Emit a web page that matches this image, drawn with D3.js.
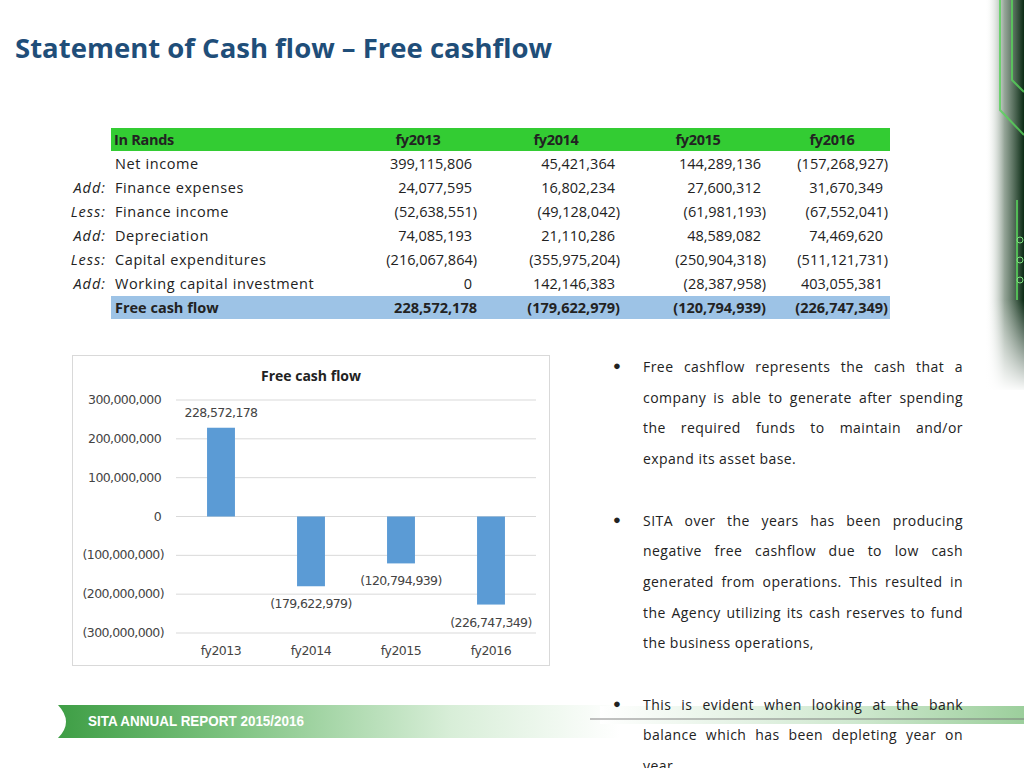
<!DOCTYPE html>
<html><head><meta charset="utf-8">
<script src="https://cdn.jsdelivr.net/npm/d3@7"></script>
<style>
body{margin:0;width:1024px;height:768px;overflow:hidden;background:#fff;font-family:"Open Sans",sans-serif;position:relative}
#txt{position:absolute;left:643px;top:352px;width:320px;font-family:"Open Sans";font-size:14px;letter-spacing:0.45px;line-height:30.7px;color:#222;text-align:justify}
#txt p{margin:0 0 30.7px 0;position:relative}
#txt p:before{content:"\25CF";position:absolute;left:-30px;top:-2px;font-size:13px}
</style></head><body>
<svg id="s" width="1024" height="768" style="position:absolute;left:0;top:0"></svg>
<div id="txt"></div>
<script>
const years=["fy2013","fy2014","fy2015","fy2016"];
const rowPrefix=["","Add:","Less:","Add:","Less:","Add:"];
const rowLabels=["Net income","Finance expenses","Finance income","Depreciation","Capital expenditures","Working capital investment"];
const rowValues=[
 ["399,115,806","45,421,364","144,289,136","(157,268,927)"],
 ["24,077,595","16,802,234","27,600,312","31,670,349"],
 ["(52,638,551)","(49,128,042)","(61,981,193)","(67,552,041)"],
 ["74,085,193","21,110,286","48,589,082","74,469,620"],
 ["(216,067,864)","(355,975,204)","(250,904,318)","(511,121,731)"],
 ["0","142,146,383","(28,387,958)","403,055,381"]];
const fcfLabels=["228,572,178","(179,622,979)","(120,794,939)","(226,747,349)"];
const fcf=[228572178,-179622979,-120794939,-226747349];
const yTicks=[300e6,200e6,100e6,0,-100e6,-200e6,-300e6];
const bullets=["Free cashflow represents the cash that a company is able to generate after spending the required funds to maintain and/or expand its asset base.",
"SITA over the years has been producing negative free cashflow due to low cash generated from operations. This resulted in the Agency utilizing its cash reserves to fund the business operations,",
"This is evident when looking at the bank balance which has been depleting year on year"];

const svg=d3.select("#s");
const defs=svg.append("defs");
const g1=defs.append("linearGradient").attr("id","band");
g1.append("stop").attr("offset","0").attr("stop-color","#3e9e45");
g1.append("stop").attr("offset","0.3").attr("stop-color","#7cc27f");
g1.append("stop").attr("offset","0.7").attr("stop-color","#d8eed8");
g1.append("stop").attr("offset","1").attr("stop-color","#ffffff");
const g2=defs.append("linearGradient").attr("id","rband");
g2.append("stop").attr("offset","0").attr("stop-color","#fff");
g2.append("stop").attr("offset","0.6").attr("stop-color","#cfe8cf");
g2.append("stop").attr("offset","1").attr("stop-color","#9ccf9c");
const g3=defs.append("linearGradient").attr("id","dk").attr("x1",0).attr("x2",1);
g3.append("stop").attr("offset","0").attr("stop-color","#fff").attr("stop-opacity",0);
g3.append("stop").attr("offset","0.5").attr("stop-color","#2a4a30").attr("stop-opacity",0.5);
g3.append("stop").attr("offset","1").attr("stop-color","#0a2a14");
const g4=defs.append("linearGradient").attr("id","fade").attr("x1",0).attr("x2",0).attr("y1",0).attr("y2",1);
g4.append("stop").attr("offset","0").attr("stop-color","#fff").attr("stop-opacity",0);
g4.append("stop").attr("offset","1").attr("stop-color","#fff").attr("stop-opacity",1);

svg.append("rect").attr("x",985).attr("y",0).attr("width",39).attr("height",390).attr("fill","url(#dk)");
svg.append("rect").attr("x",980).attr("y",300).attr("width",44).attr("height",92).attr("fill","url(#fade)");
[[1000,0,1000,110,1024,135],[1012,0,1012,80,1024,92],[1017,200,1017,300]].forEach(p=>{
 let d="M"+p[0]+","+p[1];for(let i=2;i<p.length;i+=2)d+="L"+p[i]+","+p[i+1];
 svg.append("path").attr("d",d).attr("stroke","#58d35a").attr("stroke-width",2).attr("fill","none").attr("opacity",0.8);});
[[1020,240],[1020,260],[1020,280]].forEach(c=>svg.append("circle").attr("cx",c[0]).attr("cy",c[1]).attr("r",3).attr("fill","none").attr("stroke","#7fe07f"));

svg.append("path").attr("d","M58,705 L620,705 L620,738 L58,738 Q74,722 58,705Z").attr("fill","url(#band)");
svg.append("text").attr("x",88).attr("y",726).attr("fill","#fff").attr("font-family","Liberation Sans Narrow, Liberation Sans").attr("font-weight","bold").attr("font-size",15).attr("textLength",216).attr("lengthAdjust","spacingAndGlyphs").text("SITA ANNUAL REPORT 2015/2016");
svg.append("rect").attr("x",600).attr("y",706).attr("width",424).attr("height",18).attr("fill","url(#rband)");
svg.append("line").attr("x1",590).attr("x2",1024).attr("y1",719).attr("y2",719).attr("stroke","#777").attr("stroke-width",1.5).attr("opacity",0.6);

svg.append("text").attr("x",15).attr("y",58).attr("font-family","Open Sans").attr("font-weight","bold").attr("font-size",27.5).attr("fill","#1f4e79").text("Statement of Cash flow \u2013 Free cashflow");

const colR=[477,620,766,888];
const colC=[418,556,698,832];
svg.append("rect").attr("x",111).attr("y",128).attr("width",779).attr("height",23).attr("fill","#33cc33");
const hdr=svg.append("g").attr("font-family","Open Sans").attr("font-weight","bold").attr("font-size",14.5).attr("letter-spacing","-0.3").attr("fill","#222");
hdr.append("text").attr("x",114).attr("y",145).text("In Rands");
years.forEach((y,i)=>hdr.append("text").attr("x",colC[i]).attr("y",145).attr("text-anchor","middle").text(y));
const rowY=i=>169+i*24;
const tb=svg.append("g").attr("font-family","Open Sans").attr("font-size",14.5).attr("fill","#222");
rowLabels.forEach((l,i)=>{
 if(rowPrefix[i])tb.append("text").attr("x",106).attr("y",rowY(i)).attr("text-anchor","end").attr("font-style","italic").attr("letter-spacing","1").text(rowPrefix[i]);
 tb.append("text").attr("x",115).attr("y",rowY(i)).attr("letter-spacing","0.6").text(l);
 rowValues[i].forEach((v,j)=>tb.append("text").attr("x",colR[j]-(v.endsWith(")")?0:5)).attr("y",rowY(i)).attr("text-anchor","end").text(v));
});
svg.append("rect").attr("x",111).attr("y",296).attr("width",779).attr("height",23).attr("fill","#9dc3e6");
const fr=svg.append("g").attr("font-family","Open Sans").attr("font-weight","bold").attr("font-size",14.5).attr("fill","#222");
fr.append("text").attr("x",115).attr("y",313).text("Free cash flow");
fcfLabels.forEach((v,j)=>fr.append("text").attr("x",colR[j]).attr("y",313).attr("text-anchor","end").text(v));

svg.append("rect").attr("x",72.5).attr("y",355.5).attr("width",477).attr("height",310).attr("fill","#fff").attr("stroke","#d9d9d9");
svg.append("text").attr("x",311).attr("y",381).attr("text-anchor","middle").attr("font-family","Open Sans").attr("font-weight","bold").attr("font-size",14).attr("fill","#222").text("Free cash flow");
const y=d3.scaleLinear().domain([-300e6,300e6]).range([633,400]);
const x=d3.scaleBand().domain(years).range([176,536]).paddingInner(0.69).paddingOuter(0.345);
const fmt=v=>{const s=d3.format(",")(Math.abs(v));return v<0?"("+s+")":s;};
const ch=svg.append("g").attr("font-family","DejaVu Sans").attr("font-size",12.5).attr("fill","#444");
yTicks.forEach(t=>{
 ch.append("line").attr("x1",176).attr("x2",536).attr("y1",y(t)).attr("y2",y(t)).attr("stroke","#d9d9d9");
 ch.append("text").attr("x",t<0?164:161).attr("y",y(t)+4).attr("text-anchor","end").attr("letter-spacing","-0.6").text(fmt(t));
});
years.forEach((yr,i)=>{
 const v=fcf[i];
 ch.append("rect").attr("x",x(yr)).attr("width",x.bandwidth()).attr("y",y(Math.max(0,v))).attr("height",Math.abs(y(v)-y(0))).attr("fill","#5b9bd5");
 ch.append("text").attr("x",x(yr)+x.bandwidth()/2).attr("y",v>0?y(v)-11:y(v)+22).attr("text-anchor","middle").attr("letter-spacing","-0.6").text(fcfLabels[i]);
 ch.append("text").attr("x",x(yr)+x.bandwidth()/2).attr("y",655).attr("text-anchor","middle").attr("letter-spacing","-0.5").text(yr);
});

d3.select("#txt").selectAll("p").data(bullets).enter().append("p").text(d=>d);
</script></body></html>
